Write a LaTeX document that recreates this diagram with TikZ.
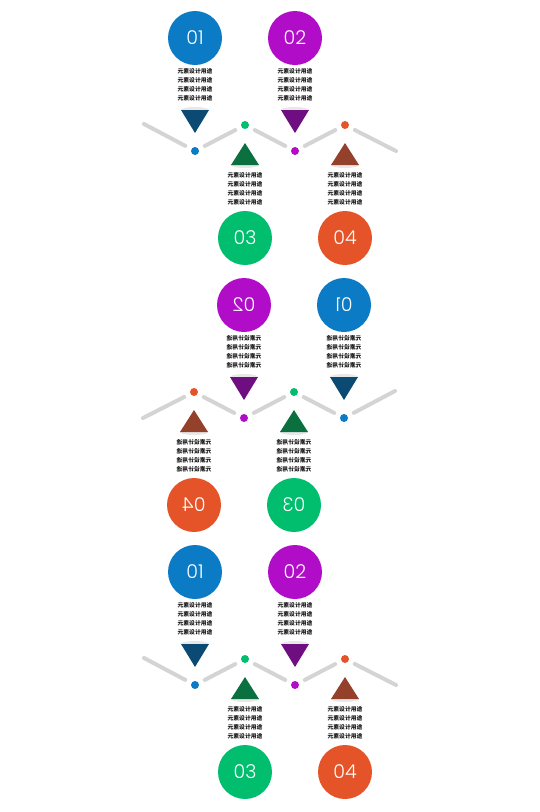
\documentclass[tikz,border=0pt]{standalone}
\usepackage{fontspec}
\setmainfont{Poppins}
\newfontfamily\numfont{Poppins Light}
\newfontfamily\cjk{Noto Sans CJK SC}
\usetikzlibrary{positioning}
\definecolor{cblue}{HTML}{0A7BC4}
\definecolor{cpurple}{HTML}{B10DC9}
\definecolor{cgreen}{HTML}{00BE6E}
\definecolor{corange}{HTML}{E55428}
\definecolor{tblue}{HTML}{0B4A72}
\definecolor{tpurple}{HTML}{6E0E80}
\definecolor{tgreen}{HTML}{0B7040}
\definecolor{tbrown}{HTML}{93412A}
\tikzset{
  badge/.style={circle, minimum size=54pt, inner sep=0pt, text=white, font=\numfont\fontsize{19}{19}\selectfont, transform shape},
  blurb/.style={align=center, font=\cjk\bfseries\fontsize{5.8}{9}\selectfont, text=black!90, inner sep=0pt, transform shape},
  dot/.style={circle, minimum size=8pt, inner sep=0pt, outer sep=0pt},
  rail/.style={line width=4pt, color=black!17, line cap=round, shorten <=7pt, shorten >=7pt},
  shade/.style={fill=black!9}
}
\newcommand{\blurbtext}{元素设计用途\\元素设计用途\\元素设计用途\\元素设计用途}
\newcommand{\panel}[1]{%
  % badges
  \node[badge, fill=cblue] (#1-b1) at (195,38) {01};
  \node[badge, fill=cpurple] (#1-b2) at (295,38) {02};
  \node[badge, fill=cgreen] (#1-b3) at (245,238) {03};
  \node[badge, fill=corange] (#1-b4) at (345,238) {04};
  % texts
  \node[blurb] (#1-t1) at (195,85) {\blurbtext};
  \node[blurb] (#1-t2) at (295,85) {\blurbtext};
  \node[blurb] (#1-t3) at (245,188.5) {\blurbtext};
  \node[blurb] (#1-t4) at (345,188.5) {\blurbtext};
  % pointers
  \fill[shade] (195,110) ellipse (14pt and 3pt);
  \fill[shade] (295,110) ellipse (14pt and 3pt);
  \fill[shade] (245,165) ellipse (14pt and 3pt);
  \fill[shade] (345,165) ellipse (14pt and 3pt);
  \fill[tblue] (181,110) -- (209,110) -- (195,133) -- cycle;
  \fill[tpurple] (281,110) -- (309,110) -- (295,133) -- cycle;
  \fill[tgreen] (231,165) -- (259,165) -- (245,143) -- cycle;
  \fill[tbrown] (331,165) -- (359,165) -- (345,143) -- cycle;
  % zigzag
  \coordinate (#1-s) at (144,124);
  \coordinate (#1-e) at (396,151);
  \node[dot, fill=cblue] (#1-d1) at (195,151) {};
  \node[dot, fill=cgreen] (#1-d2) at (245,125) {};
  \node[dot, fill=cpurple] (#1-d3) at (295,151) {};
  \node[dot, fill=corange] (#1-d4) at (345,125) {};
  \draw[rail, shorten <=0pt] (#1-s) -- (#1-d1);
  \draw[rail] (#1-d1) -- (#1-d2);
  \draw[rail] (#1-d2) -- (#1-d3);
  \draw[rail] (#1-d3) -- (#1-d4);
  \draw[rail, shorten >=0pt] (#1-d4) -- (#1-e);
}
\begin{document}
\begin{tikzpicture}[x=1pt, y=-1pt]
\useasboundingbox (0,0) rectangle (539,812);
\panel{top}
\begin{scope}[shift={(539,267)}, xscale=-1]
\panel{mid}
\end{scope}
\begin{scope}[shift={(0,534)}]
\panel{low}
\end{scope}
\end{tikzpicture}
\end{document}
